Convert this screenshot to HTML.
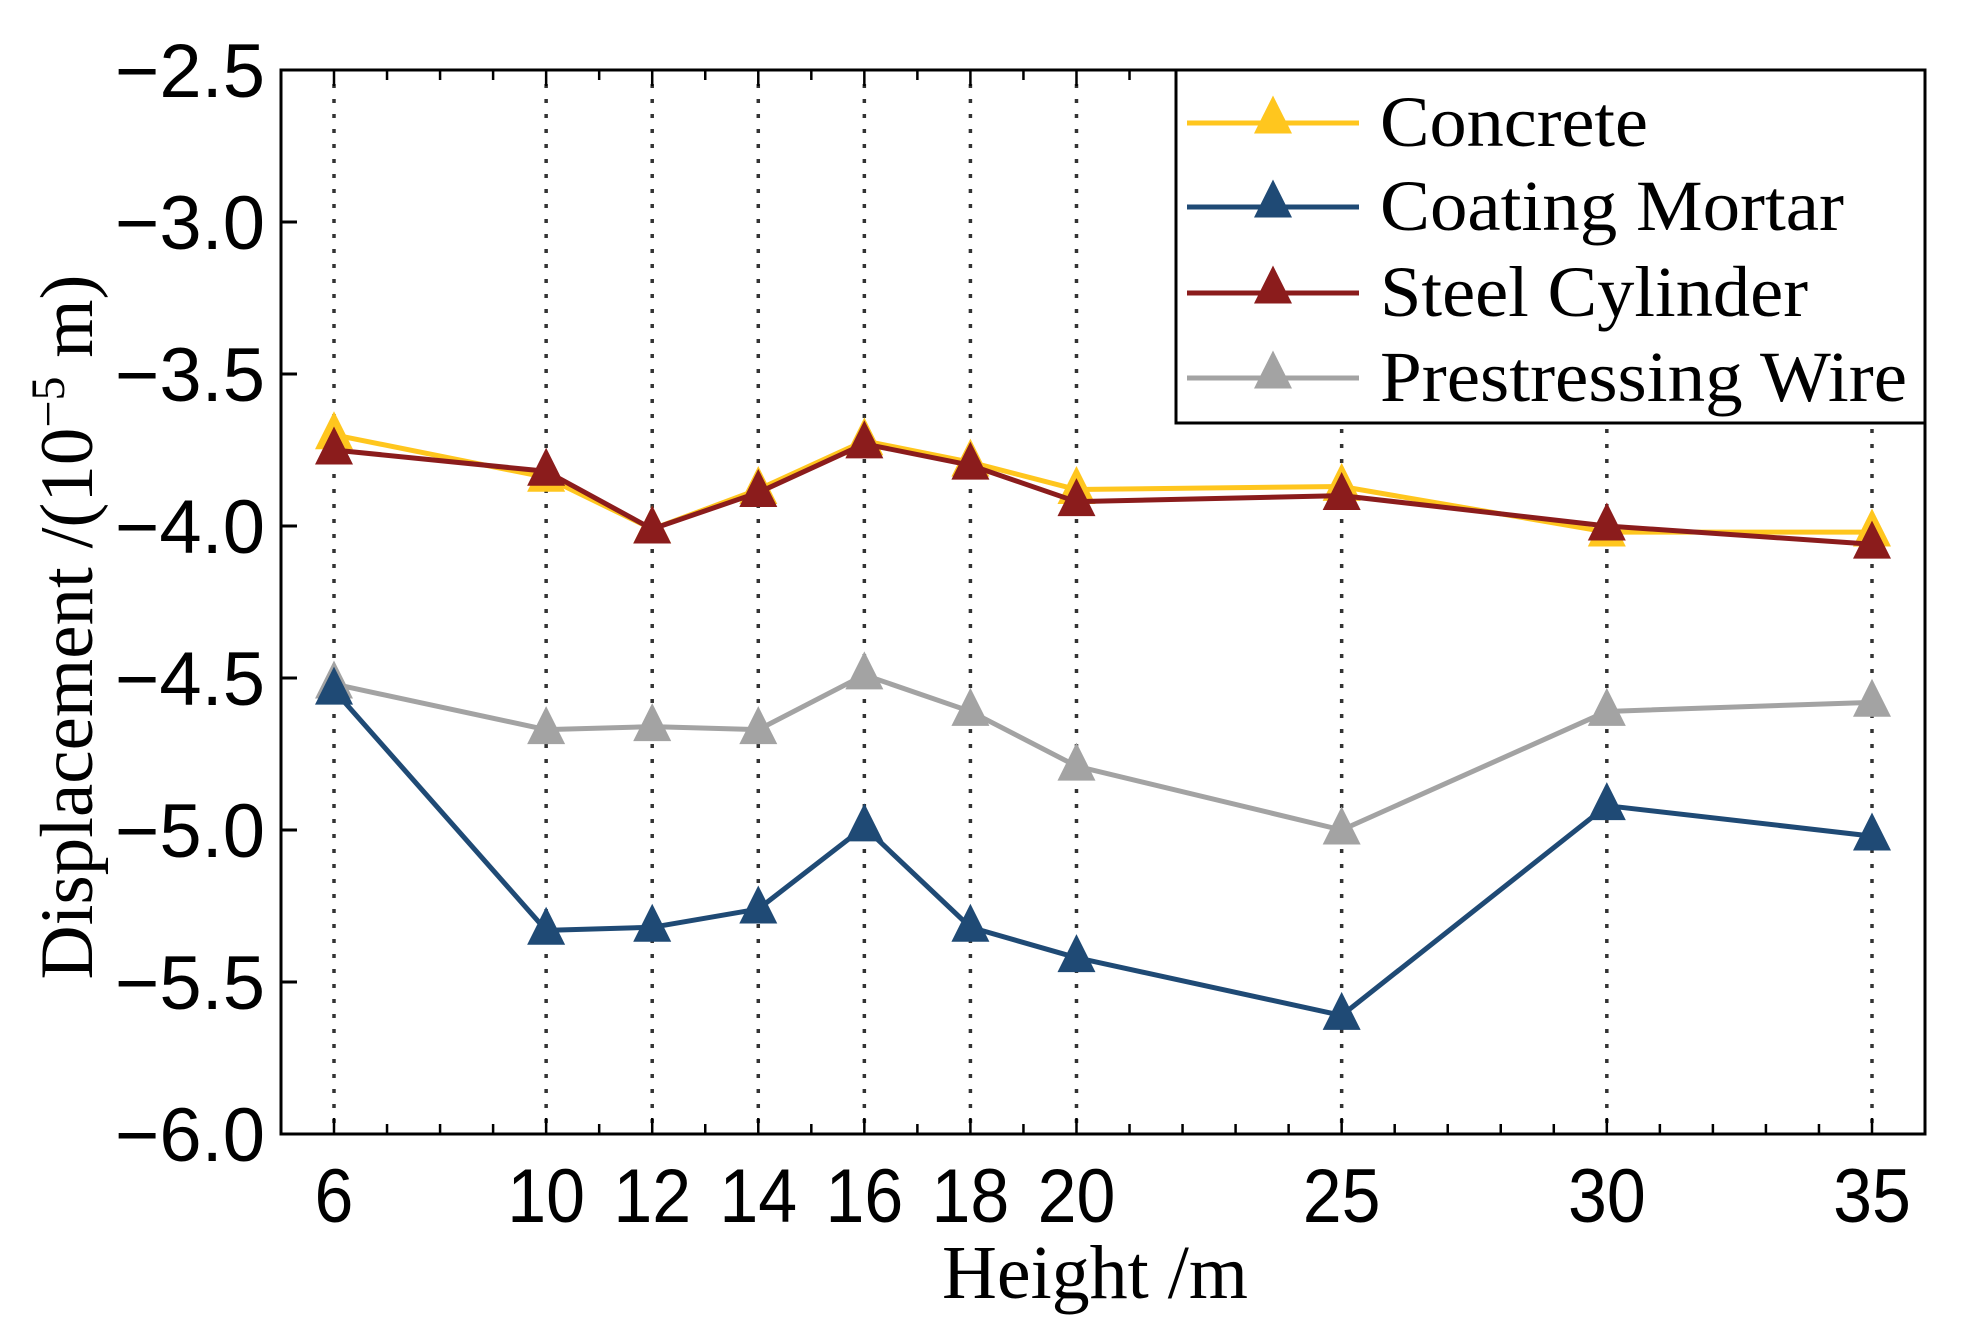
<!DOCTYPE html>
<html><head><meta charset="utf-8"><style>
html,body{margin:0;padding:0;background:#fff;}
svg{display:block;}
</style></head><body>
<svg id="chart" width="1972" height="1340" viewBox="0 0 1972 1340" xmlns="http://www.w3.org/2000/svg"></svg>
<script>
const heights = [6, 10, 12, 14, 16, 18, 20, 25, 30, 35];
const concrete = [-3.70, -3.84, -4.01, -3.88, -3.72, -3.79, -3.88, -3.87, -4.02, -4.02];
const coatingMortar = [-4.54, -5.33, -5.32, -5.26, -4.99, -5.32, -5.42, -5.61, -4.92, -5.02];
const steelCylinder = [-3.75, -3.82, -4.01, -3.89, -3.73, -3.80, -3.92, -3.90, -4.00, -4.06];
const prestressingWire = [-4.52, -4.67, -4.66, -4.67, -4.49, -4.61, -4.79, -5.00, -4.61, -4.58];
const yTicks = [-2.5, -3.0, -3.5, -4.0, -4.5, -5.0, -5.5, -6.0];
const yTickLabels = ["\u22122.5", "\u22123.0", "\u22123.5", "\u22124.0", "\u22124.5", "\u22125.0", "\u22125.5", "\u22126.0"];
const seriesNames = ["Concrete", "Coating Mortar", "Steel Cylinder", "Prestressing Wire"];

const NS = "http://www.w3.org/2000/svg";
const svg = document.getElementById("chart");
const L = 281, R = 1925, T = 70, B = 1134;
const xMin = 6, xMax = 35, x0 = 334, x1 = 1872;
function xs(v){ return x0 + (v - xMin) * (x1 - x0) / (xMax - xMin); }
function ys(v){ return T + (-2.5 - v) * (B - T) / 3.5; }
function mk(tag, attrs, parent){
  const e = document.createElementNS(NS, tag);
  for (const k in attrs) e.setAttribute(k, attrs[k]);
  (parent || svg).appendChild(e);
  return e;
}
function tri(cx, cy, s){
  return `${cx},${cy - s*0.62} ${cx - s/2},${cy + s*0.38} ${cx + s/2},${cy + s*0.38}`;
}

heights.forEach(h => {
  const g = mk("line", {x1: xs(h), x2: xs(h), y1: T + 14, y2: B, stroke: "#333", "stroke-width": 3.5, "stroke-dasharray": "4 11"});
  
  
});

for (let v = 6; v <= 35; v++) {
  const major = heights.includes(v);
  const len = major ? 16 : 10;
  const tb = mk("line", {x1: xs(v), x2: xs(v), y1: B, y2: B - len, stroke: "#000", "stroke-width": 2.5});
  
  
  const tt = mk("line", {x1: xs(v), x2: xs(v), y1: T, y2: T + len, stroke: "#000", "stroke-width": 2.5});
  
  
}

yTicks.forEach((v, i) => {
  const t = mk("line", {x1: L, x2: L + 16, y1: ys(v), y2: ys(v), stroke: "#000", "stroke-width": 3});
  
  
  const lb = mk("text", {x: 265, y: ys(v) + 27, "text-anchor": "end", "font-family": "Liberation Sans, sans-serif", "font-size": 76, fill: "#000"});
  lb.textContent = yTickLabels[i];
  
  
});

heights.forEach(h => {
  const lb = mk("text", {x: xs(h), y: 1222, "text-anchor": "middle", "font-family": "Liberation Sans, sans-serif", "font-size": 76, fill: "#000", transform: `translate(${xs(h)},0) scale(0.92,1) translate(${-xs(h)},0)`});
  lb.textContent = h;
  
  
});

const allSeries = [concrete, coatingMortar, steelCylinder, prestressingWire];
const colors = ["#FFC61E", "#1F4A75", "#8B1C1C", "#A3A3A3"];
const drawOrder = [3, 1, 0, 2];
drawOrder.forEach(si => {
  const vals = allSeries[si];
  const pts = heights.map((h, i) => xs(h) + "," + ys(vals[i])).join(" ");
  const pl = mk("polyline", {points: pts, fill: "none", stroke: colors[si], "stroke-width": 5, "stroke-linejoin": "round"});
  
  
  heights.forEach((h, i) => {
    const m = mk("polygon", {points: tri(xs(h), ys(vals[i]), 38), fill: colors[si]});
    
    
  });
});

const fr = mk("rect", {x: L, y: T, width: R - L, height: B - T, fill: "none", stroke: "#000", "stroke-width": 3});



const lg = mk("g", {});


const lbox = mk("rect", {x: 1176, y: T, width: R - 1176, height: 353, fill: "#fff", stroke: "#000", "stroke-width": 3}, lg);


const legY = [123, 207, 293, 378];
const legW = [268, 464, 428, 527];
seriesNames.forEach((n, i) => {
  const e = mk("g", {}, lg);
  
  
  mk("line", {x1: 1187, x2: 1359, y1: legY[i], y2: legY[i], stroke: colors[i], "stroke-width": 5}, e);
  mk("polygon", {points: tri(1273, legY[i] - 4, 38), fill: colors[i]}, e);
  const t = mk("text", {x: 1380, y: legY[i] + 23, "font-family": "Liberation Serif, serif", "font-size": 72, fill: "#000", textLength: legW[i], lengthAdjust: "spacingAndGlyphs"}, e);
  t.textContent = n;
});

const xt = mk("text", {x: 1095, y: 1298, "text-anchor": "middle", "font-family": "Liberation Serif, serif", "font-size": 76, fill: "#000"});
xt.textContent = "Height /m";


const yt = mk("text", {x: 0, y: 0, "text-anchor": "middle", "font-family": "Liberation Serif, serif", "font-size": 75, fill: "#000", transform: "translate(92,627) rotate(-90)"});


yt.innerHTML = 'Displacement /(10<tspan font-size="48" dy="-28">\u22125</tspan><tspan dy="28"> m)</tspan>';
</script>
</body></html>
